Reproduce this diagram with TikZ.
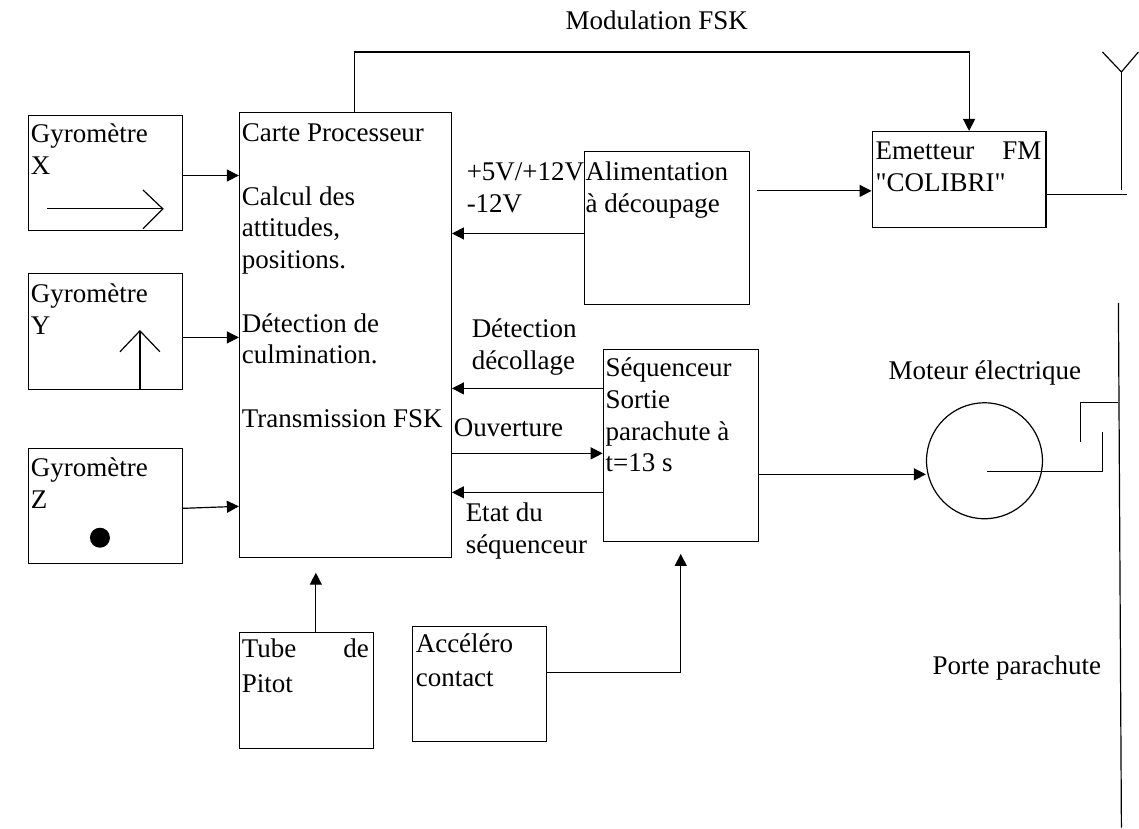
\documentclass[tikz,border=0pt]{standalone}
\usepackage{fontspec}
\setmainfont{Liberation Serif}[Ligatures=TeXOff]
\usetikzlibrary{arrows.meta,calc}
\begin{document}
\begin{tikzpicture}[x=1pt,y=-1pt,font=\fontsize{27}{31.7}\selectfont,
  box/.style={draw,line width=1.2pt,inner sep=0pt,anchor=north west},
  arr/.style={line width=1.2pt,-{Triangle[length=12pt,width=12pt]}},
  ln/.style={line width=1.2pt},
  txt/.style={anchor=base west,inner sep=0pt,outer sep=0pt}]
\path (0,0) rectangle (1139,828);
% boxes
\node[box,minimum width=154pt,minimum height=115pt] (gx) at (28,115) {};
\node[box,minimum width=154pt,minimum height=116pt] (gy) at (28,273) {};
\node[box,minimum width=154pt,minimum height=115pt] (gz) at (28,448) {};
\node[box,minimum width=212pt,minimum height=445pt] (carte) at (239,112) {};
\node[box,minimum width=165pt,minimum height=153pt] (alim) at (584,151) {};
\node[box,minimum width=155pt,minimum height=192pt] (seq) at (603,349) {};
\node[box,minimum width=174pt,minimum height=96pt] (emet) at (872,131) {};
\node[box,minimum width=134pt,minimum height=116pt] (pitot) at (239,632) {};
\node[box,minimum width=134pt,minimum height=115pt] (accel) at (412,626) {};
\node[draw,line width=1.2pt,circle,inner sep=0pt,minimum size=116pt] (motor) at (985,461) {};
% box texts
\node[txt] (tgx) at (31,143) {\parbox[t]{150pt}{Gyromètre\\X}};
\node[txt] (tgy) at (31,303) {\parbox[t]{150pt}{Gyromètre\\Y}};
\node[txt] (tgz) at (31,477) {\parbox[t]{150pt}{Gyromètre\\Z}};
\node[txt] (tcarte) at (242,142) {\parbox[t]{210pt}{Carte Processeur\\\mbox{}\\Calcul des\\attitudes,\\positions.\\\mbox{}\\Détection de\\culmination.\\\mbox{}\\Transmission FSK}};
\node[txt] (talim) at (586,181) {\parbox[t]{165pt}{Alimentation\\à découpage}};
\node[txt] (tseq) at (606,377) {\parbox[t]{155pt}{Séquenceur\\Sortie\\parachute à\\t=13 s}};
\node[txt] (temet) at (876,160) {\parbox[t]{170pt}{\makebox[166pt][s]{Emetteur FM}\\"COLIBRI"}};
\node[txt] (tpitot) at (242,658) {\parbox[t]{134pt}{\makebox[127pt][s]{Tube de}\\[3pt]Pitot}};
\node[txt] (taccel) at (416,653) {\parbox[t]{134pt}{Accéléro\\[2pt]contact}};
% free labels
\node[txt] (lmod) at (566,30) {Modulation FSK};
\node[txt] (lvolt) at (467,181) {\parbox[t]{130pt}{+5V/+12V\\-12V}};
\node[txt] (ldet) at (472,338) {\parbox[t]{130pt}{Détection\\décollage}};
\node[txt] (louv) at (454,437) {Ouverture};
\node[txt] (letat) at (466,522) {\parbox[t]{140pt}{Etat du\\séquenceur}};
\node[txt] (lmot) at (889,380) {Moteur électrique};
\node[txt] (lporte) at (933,675) {Porte parachute};
% gyro symbols
\draw[ln] (47,209) -- (163,209);
\draw[ln] (143,190) -- (163,209) -- (143,229);
\draw[ln] (140,390) -- (140,331);
\draw[ln] (120,352) -- (140,331) -- (160,352);
\fill (100,538) circle[radius=10pt];
% connectors
\draw[arr] ($(gx.east)+(0,2.5)$) -- ($(gx.east -| carte.west)+(0,2.5)$);
\draw[arr] ($(gy.east)+(0,6)$) -- ($(gy.east -| carte.west)+(0,6)$);
\draw[arr] ($(gz.east)+(0,2.5)$) -- ($(gz.east -| carte.west)+(0,0.5)$);
\draw[arr] ($(alim.west)+(0,5.5)$) -- ($(alim.west -| carte.east)+(0,5.5)$);
\draw[arr] ($(seq.west)+(0,-57)$) -- ($(seq.west -| carte.east)+(0,-57)$);
\draw[arr] ($(seq.west -| carte.east)+(0,8)$) -- ($(seq.west)+(0,8)$);
\draw[arr] ($(seq.west)+(0,47)$) -- ($(seq.west -| carte.east)+(0,47)$);
\draw[arr] ($(carte.north)+(9,0)$) -- ++(0,-60) -| ($(emet.north)+(10,0)$);
\coordinate (aout) at (757,191);
\draw[arr] (aout) -- (aout -| emet.west);
\draw[arr] ($(seq.east)+(0,29)$) -- ($(seq.east -| motor.west)+(0,29)$);
\coordinate (pitotend) at (316,573);
\draw[arr] (pitot.north -| pitotend) -- (pitotend);
\draw[arr] ($(accel.east)+(0,-11.5)$) -| ($(seq.south)+(0,12)$);
% antenna
\coordinate (ant) at (1122,72);
\draw[ln] ($(emet.east)+(0,15)$) -- ++(80,0);
\draw[ln] (1122,190) -- (ant);
\draw[ln] (1103,52) -- (ant) -- (1139,52);
% motor shaft and door
\draw[ln] ($(motor.center)+(3,11)$) -| (1103,432);
\draw[ln] (1119,403) -| (1081,442);
\draw[ln] (1119,303) -- (1122,828);
\end{tikzpicture}
\end{document}
